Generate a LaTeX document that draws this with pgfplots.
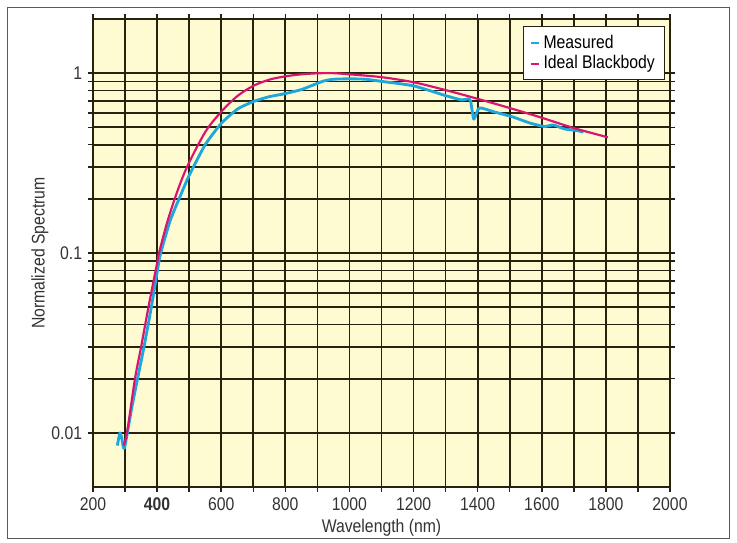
\documentclass[border=0pt]{standalone}
\usepackage{fontspec}
\setmainfont{Liberation Sans}[FakeStretch=0.86]
\usepackage{pgfplots}
\pgfplotsset{compat=1.18}
\definecolor{paper}{RGB}{254,251,210}
\definecolor{gridc}{RGB}{38,34,14}
\definecolor{meas}{RGB}{28,168,220}
\definecolor{ideal}{RGB}{218,20,110}
\begin{document}
\begin{tikzpicture}
\path[use as bounding box] (-55.8pt,-33pt) rectangle (386.4pt,292.2pt);
\draw[gray!70!black, line width=0.6pt] (-51pt,-30.6pt) rectangle (381.6pt,288pt);
\begin{axis}[
    at={(0pt,0pt)}, anchor=south west,
    scale only axis,
    width=346.2pt, height=280.8pt,
    ymode=log,
    xmin=200, xmax=2000,
    ymin=0.005, ymax=2,
    xtick={200,400,...,2000},
    minor xtick={300,500,...,1900},
    xticklabels={200,\textbf{400},600,800,1000,1200,1400,1600,1800,2000},
    ytick={0.01,0.1,1},
    yticklabels={0.01,0.1,1},
    grid=both,
    grid style={gridc, line width=1pt},
    minor grid style={gridc, line width=1pt},
    axis line style={gridc, line width=1pt},
    tick style={gridc, line width=0.9pt},
    tick align=outside,
    major tick length=3pt, minor tick length=3pt,
    axis background/.style={fill=paper},
    tick label style={font=\fontsize{11}{13}\selectfont, black!80},
    label style={font=\fontsize{11}{13}\selectfont, black!80},
    /pgf/number format/assume math mode=true,
    xlabel={Wavelength (nm)},
    ylabel={Normalized Spectrum},
    xlabel style={yshift=2pt},
    ylabel style={yshift=-5pt},
    legend style={at={(0.992,0.985)}, anchor=north east, fill=white,
        draw=gridc, line width=0.6pt, font=\fontsize{11}{13}\selectfont,
        inner xsep=4pt, inner ysep=3pt, row sep=-1pt, cells={anchor=west}},
    legend cell align=left,
    legend image code/.code={\draw[#1, line width=1.2pt] (0pt,0pt) -- (5pt,0pt);},
]
\addplot[meas, line width=1.7pt, line join=round, smooth, tension=0.35] coordinates {
    (276,0.0085) (284,0.0100) (290,0.0093) (298,0.0082) (320,0.0135)
    (339,0.020) (359,0.030) (382,0.050) (400,0.078) (410,0.098)
    (440,0.150) (471,0.205) (500,0.270) (550,0.400) (600,0.525)
    (650,0.630) (700,0.695) (750,0.740) (800,0.770) (850,0.810)
    (880,0.850) (920,0.905) (950,0.925) (1000,0.930) (1050,0.925)
    (1100,0.900) (1200,0.850) (1300,0.750) (1350,0.710) (1370,0.720)
    (1378,0.700) (1388,0.555) (1405,0.640) (1450,0.610) (1511,0.570)
    (1560,0.530) (1607,0.505) (1636,0.515) (1670,0.490) (1708,0.480)
    (1730,0.470)
};
\addlegendentry{Measured}
\addplot[ideal, line width=1.3pt, smooth, tension=0.5] coordinates {
    (295,0.0085) (306,0.010) (331,0.020) (350,0.030) (373,0.050)
    (400,0.088) (406,0.100) (430,0.145) (459,0.210) (493,0.300)
    (550,0.470) (600,0.610) (650,0.745) (700,0.850) (750,0.920)
    (800,0.960) (850,0.985) (900,0.998) (950,1.000) (1000,0.985)
    (1100,0.950) (1200,0.890) (1300,0.805) (1400,0.720) (1500,0.640)
    (1600,0.565) (1700,0.495) (1806,0.440)
};
\addlegendentry{Ideal Blackbody}
\end{axis}
\end{tikzpicture}
\end{document}
